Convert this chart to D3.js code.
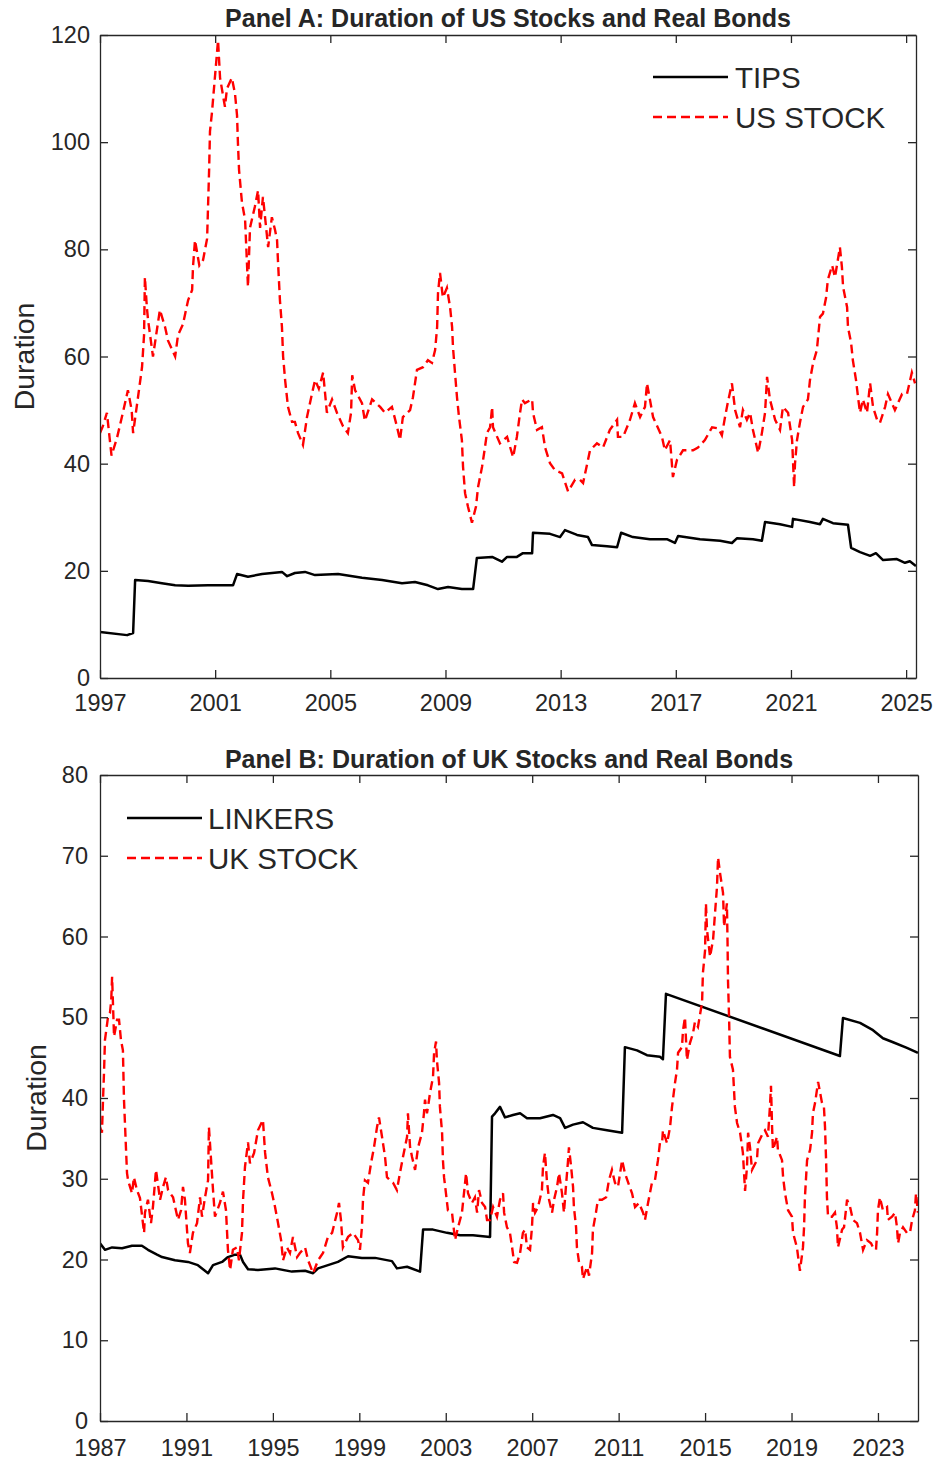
<!DOCTYPE html>
<html><head><meta charset="utf-8">
<script src="https://cdn.jsdelivr.net/npm/d3@7"></script>
<style>
body{margin:0;background:#fff}
svg text{font-family:"Liberation Sans",Arial,sans-serif;fill:#262626}
</style>
</head><body>
<svg id="chart" width="937" height="1460"></svg>
<script>
// ---------- Panel A data ----------
const usXTicks = [1997,2001,2005,2009,2013,2017,2021,2025];
const usYTicks = [0,20,40,60,80,100,120];
const usStockYears = [1997.00,1997.10,1997.24,1997.40,1997.59,1997.76,1997.97,1998.10,1998.15,1998.32,1998.46,1998.53,1998.56,1998.63,1998.67,1998.84,1999.08,1999.26,1999.36,1999.61,1999.71,1999.88,2000.06,2000.20,2000.23,2000.30,2000.45,2000.58,2000.72,2000.79,2000.82,2000.89,2000.99,2001.10,2001.17,2001.27,2001.34,2001.41,2001.58,2001.69,2001.76,2001.79,2001.83,2001.93,2002.04,2002.14,2002.21,2002.38,2002.49,2002.56,2002.66,2002.84,2002.97,2003.08,2003.15,2003.18,2003.25,2003.32,2003.36,2003.43,2003.53,2003.67,2003.77,2003.88,2004.05,2004.19,2004.36,2004.47,2004.60,2004.75,2004.82,2004.88,2005.06,2005.23,2005.44,2005.61,2005.72,2005.76,2005.86,2006.10,2006.20,2006.45,2006.73,2006.90,2007.14,2007.32,2007.42,2007.52,2007.77,2007.87,2008.01,2008.22,2008.39,2008.53,2008.64,2008.71,2008.74,2008.81,2008.91,2009.05,2009.16,2009.23,2009.26,2009.33,2009.40,2009.47,2009.57,2009.61,2009.68,2009.78,2009.92,2010.06,2010.13,2010.27,2010.37,2010.44,2010.55,2010.62,2010.65,2010.89,2011.14,2011.35,2011.48,2011.59,2011.66,2011.76,2012.01,2012.04,2012.18,2012.35,2012.46,2012.63,2012.80,2013.05,2013.26,2013.50,2013.67,2013.78,2013.95,2014.02,2014.26,2014.47,2014.71,2014.96,2014.99,2015.17,2015.41,2015.58,2015.76,2015.93,2016.00,2016.10,2016.21,2016.52,2016.62,2016.80,2016.90,2017.04,2017.25,2017.60,2017.77,2018.01,2018.26,2018.47,2018.60,2018.71,2018.81,2018.95,2019.06,2019.23,2019.33,2019.47,2019.58,2019.68,2019.86,2019.99,2020.10,2020.17,2020.27,2020.45,2020.62,2020.72,2020.90,2021.04,2021.11,2021.14,2021.21,2021.31,2021.42,2021.59,2021.66,2021.77,2021.90,2022.01,2022.11,2022.22,2022.28,2022.43,2022.53,2022.70,2022.77,2022.81,2022.95,2022.98,2023.09,2023.15,2023.26,2023.33,2023.40,2023.50,2023.64,2023.75,2023.85,2023.99,2024.09,2024.27,2024.37,2024.61,2024.86,2025.03,2025.20,2025.31];
const usStockValues = [45.7,47,49.5,41.5,44.8,48.7,53.7,50,45.7,52.4,58,64,74.8,69,66.8,60,68.7,65.5,63,60,64,66,70.5,72.4,76.7,81.7,77,78,82,94.8,102,105.6,112,119,112,108.8,106.6,110,112,109,105,100,94.8,88.8,85.5,73,84,88,91,84,89.8,80.4,86,83.6,81.7,78,70.5,65.5,60,55.6,50.6,47.8,47.8,45.7,43.5,48.7,53,55.6,54,57,53,49.5,52,49.5,47,45.7,49.5,56.5,53.7,51.3,48,52,50.6,49.5,50.6,46.8,44.4,48.7,50,52.4,57.5,58,59.3,58.8,61.2,65.5,71.8,75.6,71,72.8,69.2,65.5,61.8,57,52.4,48.7,44.4,39.4,34.5,32,29,32,35.6,39.4,43,45.7,46.8,50.6,46.8,43.8,45,41.2,45,49.5,52,51.3,52,49.5,46.3,46.8,43,40.1,38.8,38.2,34.8,37,37,36.4,40.7,42.5,43.8,43,46.3,48.2,45,45,48.2,51.3,48.7,50.6,55,52,48.7,45,42.5,44.4,37.5,40.7,42.5,42.5,43,44.4,46.8,46.6,45.3,48.7,51.5,55,50,46.8,50,48.2,49.5,46.3,42,45.7,49.5,56.2,52,48.2,46.3,50.6,49.5,44.4,35.6,40,44.4,47.6,50.6,52,55.6,58.8,61.2,67.4,68,71,74.3,77,74.8,80.4,76.7,73,69.2,65.5,62.5,59.3,55.6,52.4,49.5,52,49.5,55,50.6,48.2,47.6,50.6,53,50,53,53,57,55];
const tipsYears = [1997.00,1997.94,1998.15,1998.22,1998.67,1999.15,1999.61,2000.06,2000.75,2001.62,2001.76,2002.14,2002.63,2003.32,2003.50,2003.77,2004.12,2004.47,2005.27,2006.10,2006.80,2007.49,2007.94,2008.39,2008.74,2009.09,2009.57,2009.96,2010.09,2010.62,2010.96,2011.14,2011.48,2011.69,2012.01,2012.04,2012.63,2012.98,2013.15,2013.57,2013.95,2014.09,2014.61,2014.96,2015.10,2015.51,2016.10,2016.69,2016.97,2017.08,2017.84,2018.54,2018.95,2019.13,2019.68,2019.99,2020.10,2020.62,2021.04,2021.07,2021.66,2022.01,2022.11,2022.46,2022.98,2023.09,2023.40,2023.75,2023.95,2024.20,2024.68,2024.96,2025.13,2025.34];
const tipsValues = [8.6,8.0,8.4,18.3,18.1,17.7,17.3,17.2,17.3,17.3,19.4,18.9,19.4,19.8,19.0,19.6,19.8,19.2,19.4,18.7,18.3,17.7,17.9,17.3,16.6,17.0,16.6,16.6,22.4,22.6,21.7,22.6,22.6,23.3,23.3,27.1,26.9,26.3,27.6,26.7,26.3,24.8,24.6,24.4,27.1,26.3,25.9,25.9,25.2,26.5,25.9,25.6,25.2,26.1,25.9,25.6,29.1,28.7,28.2,29.7,29.1,28.7,29.7,28.9,28.6,24.3,23.5,22.8,23.3,22.0,22.2,21.5,21.8,20.9];

// ---------- Panel B data ----------
const ukXTicks = [1987,1991,1995,1999,2003,2007,2011,2015,2019,2023];
const ukYTicks = [0,10,20,30,40,50,60,70,80];
const ukStockYears = [1987.00,1987.09,1987.14,1987.19,1987.23,1987.37,1987.46,1987.52,1987.56,1987.65,1987.79,1987.88,1987.97,1988.06,1988.11,1988.20,1988.25,1988.30,1988.48,1988.57,1988.71,1988.85,1989.04,1989.08,1989.22,1989.36,1989.45,1989.59,1989.78,1989.92,1990.05,1990.15,1990.38,1990.61,1990.75,1990.84,1990.93,1991.07,1991.16,1991.30,1991.49,1991.63,1991.72,1991.86,1992.00,1992.04,1992.14,1992.23,1992.32,1992.55,1992.69,1992.83,1992.92,1993.02,1993.15,1993.34,1993.43,1993.57,1993.62,1993.71,1993.85,1993.94,1994.13,1994.31,1994.54,1994.64,1994.77,1994.96,1995.10,1995.24,1995.38,1995.47,1995.65,1995.79,1995.93,1996.12,1996.25,1996.49,1996.63,1996.86,1997.09,1997.32,1997.55,1997.74,1997.97,1998.06,1998.15,1998.24,1998.48,1998.71,1998.94,1999.03,1999.12,1999.17,1999.26,1999.40,1999.54,1999.68,1999.82,1999.91,2000.05,2000.19,2000.28,2000.42,2000.56,2000.74,2000.88,2001.02,2001.21,2001.25,2001.35,2001.44,2001.58,2001.72,2001.90,2001.99,2002.04,2002.13,2002.18,2002.27,2002.41,2002.46,2002.55,2002.59,2002.69,2002.73,2002.83,2002.87,2002.92,2003.01,2003.10,2003.29,2003.43,2003.57,2003.75,2003.94,2004.03,2004.21,2004.35,2004.45,2004.54,2004.68,2004.82,2004.91,2005.05,2005.19,2005.37,2005.51,2005.65,2005.70,2005.83,2005.97,2006.07,2006.16,2006.30,2006.44,2006.57,2006.67,2006.76,2006.90,2006.99,2007.04,2007.13,2007.27,2007.45,2007.50,2007.59,2007.68,2007.78,2007.92,2008.01,2008.15,2008.24,2008.38,2008.47,2008.56,2008.66,2008.70,2008.80,2008.89,2008.93,2009.03,2009.07,2009.17,2009.30,2009.35,2009.54,2009.63,2009.77,2009.81,2009.95,2010.04,2010.23,2010.42,2010.55,2010.69,2010.83,2010.97,2011.16,2011.29,2011.43,2011.62,2011.76,2011.94,2012.13,2012.22,2012.36,2012.54,2012.68,2012.82,2012.91,2013.01,2013.05,2013.24,2013.38,2013.47,2013.61,2013.70,2013.75,2013.93,2013.98,2014.07,2014.16,2014.30,2014.44,2014.53,2014.67,2014.86,2014.90,2015.00,2015.04,2015.09,2015.23,2015.37,2015.46,2015.55,2015.60,2015.69,2015.83,2015.88,2016.01,2016.04,2016.06,2016.11,2016.15,2016.29,2016.38,2016.48,2016.62,2016.75,2016.85,2016.94,2016.99,2017.08,2017.17,2017.40,2017.45,2017.68,2017.77,2017.91,2018.00,2018.05,2018.10,2018.14,2018.33,2018.37,2018.56,2018.61,2018.70,2018.84,2019.02,2019.07,2019.25,2019.39,2019.53,2019.58,2019.62,2019.72,2019.86,2019.95,2019.99,2020.09,2020.23,2020.41,2020.50,2020.55,2020.60,2020.64,2020.69,2020.87,2021.01,2021.10,2021.15,2021.34,2021.43,2021.57,2021.71,2021.84,2022.03,2022.17,2022.31,2022.49,2022.68,2022.77,2022.91,2022.96,2023.00,2023.09,2023.23,2023.42,2023.46,2023.65,2023.79,2023.88,2023.93,2024.02,2024.16,2024.34,2024.48,2024.58,2024.71,2024.76,2024.85];
const ukStockValues = [36.4,35.7,39.8,43.5,47.2,50.0,50.5,52.1,55.0,47.6,49.7,49.7,47.2,45.9,39.8,33.9,30.7,29.8,28.2,30.2,28.6,27.6,23.3,25.8,27.4,24.5,26.5,31.1,27.4,29,30.2,28.6,27.7,24.9,26.1,29,27.4,22,20.8,23.3,24.5,27.7,25.3,27.7,29.8,36.4,32.3,28.6,25.3,27,28.4,26.1,21.2,18.7,21.2,21.5,19.9,23.3,27.4,31.5,34.5,31.9,33.2,36,37.3,33.2,30.2,28.2,26.5,24.5,22.4,19.9,21.5,20.8,22.8,20.3,20.8,21.5,19.9,18.3,19.9,20.8,22.8,23.3,25.8,27,24.9,21.5,22.8,23.3,22.4,21.2,24,27.4,29.8,29.5,31.9,33.9,36.4,37.6,35.2,32.7,30.2,29.8,29.5,28.6,30.7,32.7,35.2,38.1,33.9,32.7,31.1,33.9,35.7,38.1,39.8,38.1,38.9,40.6,42.6,45.6,47.0,44.7,41.9,38.9,35.7,32.3,30.2,28.2,26.1,25.8,22.4,24,25.8,30.7,28.2,27,27.7,25.8,28.6,27,26.5,24.9,24.9,26.5,25.3,27.4,28.2,25.8,24,23.3,21.5,19.7,19.6,20.8,23.3,23.7,21.5,21.2,24,27,25.8,26.5,28.6,31.5,33.2,29.8,27.4,25.8,27.4,29,30.7,28.2,25.8,29,32.3,33.9,31.5,29,26.5,24,21.5,19.6,19.1,17.6,19.1,18.0,20.8,23.7,25.8,27.4,27.4,27.7,29.8,31.1,29.5,29,32.3,30.7,29.6,28.2,26.5,27,25.8,24.9,27,29.5,29.8,32.3,34.4,34.4,36,34.4,36.4,38.9,41.9,43.5,45.6,46.3,48.4,50.0,44.7,46.8,48.0,49.4,48.8,51.8,55.5,58.3,64.1,60.8,57.5,59.6,62.9,66.1,69.8,67.9,65.4,61.2,64.1,59.2,54.6,50.0,45.1,43.5,38.9,36.9,35.7,33.2,28.5,31.5,35.7,33.9,31.1,32.3,34.4,35.7,36,35.2,38.9,41.5,36.4,33.6,35.2,33.6,32.3,30.2,28.2,26.1,25.3,23.3,21.5,18.6,21.5,24,27.7,32.3,33.6,35.7,38.1,39.4,42.0,39.4,38.9,36.4,32.3,27.7,25.3,25.3,25.8,24,21.5,23.7,24,27.4,26.5,24.9,24.5,23.3,21.2,22.4,22,21.5,21.2,23.3,26.1,27.7,26.1,26.5,24.9,25.3,25.8,24,22,23.3,24,23.3,23.3,24.9,26.1,28.2,25.8];
const linkersYears = [1987.00,1987.23,1987.56,1988.02,1988.48,1988.94,1989.22,1989.64,1989.87,1990.47,1991.07,1991.53,1992.00,1992.23,1992.65,1992.92,1993.25,1993.48,1993.62,1993.85,1994.31,1995.10,1995.88,1996.49,1996.86,1997.09,1997.55,1998.01,1998.48,1999.12,1999.73,2000.51,2000.74,2001.21,2001.81,2001.95,2002.41,2003.06,2003.66,2004.26,2005.05,2005.14,2005.28,2005.51,2005.74,2006.11,2006.44,2006.76,2007.36,2007.96,2008.29,2008.52,2008.89,2009.35,2009.81,2010.46,2011.16,2011.29,2011.85,2012.31,2012.91,2013.05,2013.19,2021.24,2021.38,2022.17,2022.77,2023.23,2023.70,2024.34,2024.85];
const linkersValues = [22.0,21.2,21.5,21.4,21.7,21.7,21.2,20.6,20.3,19.9,19.7,19.3,18.3,19.3,19.7,20.3,20.6,20.6,19.7,18.8,18.7,18.9,18.5,18.6,18.3,18.9,19.3,19.7,20.4,20.2,20.2,19.8,18.9,19.1,18.5,23.7,23.7,23.3,23.0,23.0,22.8,37.7,38.1,38.9,37.6,37.9,38.1,37.5,37.5,37.9,37.5,36.3,36.7,37.0,36.3,36.0,35.7,46.3,45.9,45.3,45.1,44.8,52.9,45.2,49.9,49.3,48.4,47.4,46.9,46.2,45.6];

const svg = d3.select("#chart");
const AXIS = "#262626";

function drawPanel(o){
  const g = svg.append("g");
  const x = d3.scaleLinear().domain(o.xDomain).range([o.left,o.right]);
  const y = d3.scaleLinear().domain(o.yDomain).range([o.bottom,o.top]);
  const clipId = "clip"+o.id;
  g.append("clipPath").attr("id",clipId).append("rect")
    .attr("x",o.left).attr("y",o.top-2).attr("width",o.right-o.left).attr("height",o.bottom-o.top+2);

  const line = d3.line().x(d=>x(d[0])).y(d=>y(d[1]));
  const lines = g.append("g").attr("clip-path",`url(#${clipId})`);
  lines.append("path").datum(d3.zip(o.blackX,o.blackY)).attr("d",line)
    .attr("fill","none").attr("stroke","#000").attr("stroke-width",2.5).attr("stroke-linejoin","round");
  lines.append("path").datum(d3.zip(o.redX,o.redY)).attr("d",line)
    .attr("fill","none").attr("stroke","#ff0000").attr("stroke-width",2.4).attr("stroke-dasharray","9,5");

  const styleAxis = sel => {
    sel.select(".domain").attr("stroke",AXIS).attr("stroke-width",1.3);
    sel.selectAll(".tick line").attr("stroke",AXIS).attr("stroke-width",1.3);
    sel.selectAll(".tick text").attr("fill",AXIS).style("font-size",o.tickFont+"px")
      .style("font-family",'"Liberation Sans",Arial,sans-serif');
  };
  g.append("g").attr("transform",`translate(0,${o.bottom})`)
    .call(d3.axisBottom(x).tickValues(o.xTicks).tickFormat(d3.format("d")).tickSizeInner(-8).tickSizeOuter(0).tickPadding(o.xPad))
    .call(styleAxis);
  g.append("g").attr("transform",`translate(0,${o.top})`)
    .call(d3.axisTop(x).tickValues(o.xTicks).tickFormat("").tickSizeInner(-8).tickSizeOuter(0))
    .call(styleAxis);
  g.append("g").attr("transform",`translate(${o.left},0)`)
    .call(d3.axisLeft(y).tickValues(o.yTicks).tickSizeInner(-8).tickSizeOuter(0).tickPadding(o.yPad))
    .call(styleAxis);
  g.append("g").attr("transform",`translate(${o.right},0)`)
    .call(d3.axisRight(y).tickValues(o.yTicks).tickFormat("").tickSizeInner(-8).tickSizeOuter(0))
    .call(styleAxis);

  g.append("text").attr("x",(o.left+o.right)/2).attr("y",o.titleY)
    .attr("text-anchor","middle").style("font-weight","bold").style("font-size","25px")
    .attr("fill","#000").text(o.title);
  g.append("text").attr("transform",`translate(${o.ylabX},${(o.top+o.bottom)/2}) rotate(-90)`)
    .attr("text-anchor","middle").style("font-size","28.5px").text("Duration");

  // legend
  const L = o.legend;
  L.items.forEach((it,i)=>{
    const yy = L.y + i*L.dy;
    g.append("line").attr("x1",L.x1).attr("x2",L.x2).attr("y1",yy).attr("y2",yy)
      .attr("stroke",it.color).attr("stroke-width",it.dash?2.4:2.5)
      .attr("stroke-dasharray",it.dash?"9,5":null);
    g.append("text").attr("x",L.tx).attr("y",yy+10.5).style("font-size","29.5px")
      .attr("fill","#000").text(it.label);
  });
}

drawPanel({
  id:"A", left:100, right:916, top:35, bottom:678,
  xDomain:[1997,1997+816/28.79], yDomain:[0,120],
  xTicks:usXTicks, yTicks:usYTicks, xPad:16, yPad:10, tickFont:23.5,
  blackX:tipsYears, blackY:tipsValues, redX:usStockYears, redY:usStockValues,
  title:"Panel A: Duration of US Stocks and Real Bonds", titleY:27, ylabX:34,
  legend:{x1:653,x2:728,tx:735,y:77,dy:40,items:[{label:"TIPS",color:"#000",dash:false},{label:"US STOCK",color:"#ff0000",dash:true}]}
});
drawPanel({
  id:"B", left:100, right:918, top:775, bottom:1421,
  xDomain:[1987,1987+818/21.61], yDomain:[0,80],
  xTicks:ukXTicks, yTicks:ukYTicks, xPad:18, yPad:12, tickFont:23.5,
  blackX:linkersYears, blackY:linkersValues, redX:ukStockYears, redY:ukStockValues,
  title:"Panel B: Duration of UK Stocks and Real Bonds", titleY:768, ylabX:46,
  legend:{x1:127,x2:202,tx:208,y:818,dy:40,items:[{label:"LINKERS",color:"#000",dash:false},{label:"UK STOCK",color:"#ff0000",dash:true}]}
});
</script>
</body></html>
